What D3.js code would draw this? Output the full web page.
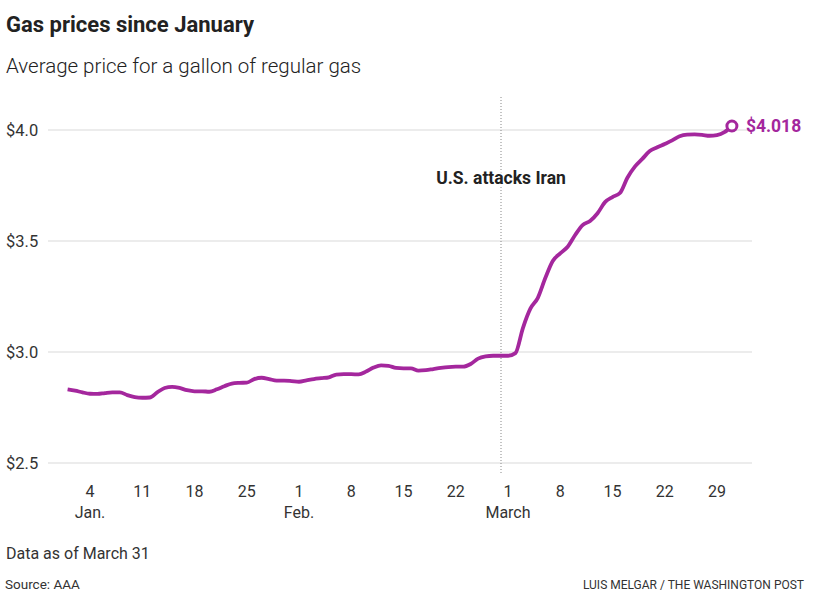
<!DOCTYPE html>
<html>
<head>
<meta charset="utf-8">
<script src="https://cdn.jsdelivr.net/npm/d3@7"></script>
<style>
  body { margin: 0; background: #fff; }
  svg text { font-family: Roboto, "Noto Sans", sans-serif; }
</style>
</head>
<body>
<svg width="820" height="611"></svg>
<script>
// data: daily average price, Jan 1 - Mar 31
var startDate = '2026-01-01';
var prices = [
  2.832, 2.826, 2.818, 2.812, 2.811, 2.815, 2.818, 2.818, 2.806, 2.797,
  2.794, 2.795, 2.818, 2.838, 2.843, 2.838, 2.828, 2.823, 2.823, 2.821,
  2.832, 2.846, 2.858, 2.861, 2.862, 2.878, 2.884, 2.878, 2.871, 2.871,
  2.869, 2.866, 2.872, 2.878, 2.882, 2.886, 2.898, 2.900, 2.900, 2.899,
  2.912, 2.930, 2.940, 2.938, 2.928, 2.926, 2.926, 2.916, 2.918, 2.923,
  2.928, 2.932, 2.934, 2.934, 2.946, 2.970, 2.980, 2.983, 2.983, 2.983,
  2.995, 3.108, 3.195, 3.244, 3.333, 3.410, 3.444, 3.474, 3.527, 3.572,
  3.590, 3.625, 3.675, 3.698, 3.716, 3.785, 3.835, 3.870, 3.905, 3.922,
  3.937, 3.953, 3.972, 3.979, 3.980, 3.978, 3.974, 3.977, 3.990, 4.018
];
var yTicks = [2.5, 3.0, 3.5, 4.0];
var xTicks = ['2026-01-04', '2026-01-11', '2026-01-18', '2026-01-25', '2026-02-01',
  '2026-02-08', '2026-02-15', '2026-02-22', '2026-03-01', '2026-03-08',
  '2026-03-15', '2026-03-22', '2026-03-29'];
var monthLabels = {'2026-01-04': 'Jan.', '2026-02-01': 'Feb.', '2026-03-01': 'March'};
var eventDate = '2026-02-28';
var eventLabel = 'U.S. attacks Iran';
var lastLabel = '$4.018';

var parse = d3.utcParse('%Y-%m-%d');
var start = parse(startDate);
var dataset = prices.map(function(v, i) {
  return {date: d3.utcDay.offset(start, i), price: v};
});

var svg = d3.select('svg');
var purple = '#a4279d';

var xScale = d3.scaleUtc()
  .domain(d3.extent(dataset, function(d) { return d.date; }))
  .range([67.6, 731.9]);
var yScale = d3.scaleLinear().domain([2.5, 4.0]).range([463, 130]);

// titles
svg.append('text').attr('x', 6).attr('y', 32)
  .style('font-size', '22px').style('font-weight', 700).attr('fill', '#222')
  .text('Gas prices since January');
svg.append('text').attr('x', 6).attr('y', 73)
  .style('font-size', '20.5px').style('font-weight', 300).attr('fill', '#222')
  .text('Average price for a gallon of regular gas');

// grid
var grid = svg.append('g');
grid.selectAll('line').data(yTicks).enter().append('line')
  .attr('x1', 48).attr('x2', 752)
  .attr('y1', function(d) { return yScale(d); })
  .attr('y2', function(d) { return yScale(d); })
  .attr('stroke', '#d9d9d9').attr('stroke-width', 1);
grid.selectAll('text').data(yTicks).enter().append('text')
  .attr('x', 6)
  .attr('y', function(d) { return yScale(d) + 6; })
  .style('font-size', '16.5px').attr('fill', '#333')
  .text(function(d) { return '$' + d.toFixed(1); });

// x axis labels
var xg = svg.append('g');
xg.selectAll('.tick').data(xTicks).enter().append('text')
  .attr('class', 'tick')
  .attr('x', function(d) { return xScale(parse(d)); })
  .attr('y', 497)
  .attr('text-anchor', 'middle')
  .style('font-size', '16px').attr('fill', '#333')
  .text(function(d) { return +d.slice(8); });
xg.selectAll('.month').data(Object.keys(monthLabels)).enter().append('text')
  .attr('class', 'month')
  .attr('x', function(d) { return xScale(parse(d)); })
  .attr('y', 518)
  .attr('text-anchor', 'middle')
  .style('font-size', '16px').attr('fill', '#333')
  .text(function(d) { return monthLabels[d]; });

// event line
var ex = xScale(parse(eventDate)) + 0.5;
svg.append('line')
  .attr('x1', ex).attr('x2', ex).attr('y1', 97).attr('y2', 473)
  .attr('stroke', '#888').attr('stroke-width', 1)
  .attr('stroke-dasharray', '1,2');
svg.append('text')
  .attr('x', ex).attr('y', 184)
  .attr('text-anchor', 'middle')
  .style('font-size', '17.5px').style('font-weight', 700)
  .attr('fill', '#222')
  .attr('stroke', '#fff').attr('stroke-width', 4).attr('paint-order', 'stroke')
  .text(eventLabel);

// price line
var line = d3.line()
  .x(function(d) { return xScale(d.date); })
  .y(function(d) { return yScale(d.price); })
  .curve(d3.curveMonotoneX);
svg.append('path').datum(dataset)
  .attr('d', line)
  .attr('fill', 'none').attr('stroke', purple)
  .attr('stroke-width', 3.8).attr('stroke-linejoin', 'round');

var last = dataset[dataset.length - 1];
svg.append('circle')
  .attr('cx', xScale(last.date)).attr('cy', yScale(last.price))
  .attr('r', 5)
  .attr('fill', '#fff').attr('stroke', purple).attr('stroke-width', 3);
svg.append('text')
  .attr('x', xScale(last.date) + 14).attr('y', yScale(last.price) + 6)
  .style('font-size', '17.5px').style('font-weight', 700).attr('fill', purple)
  .text(lastLabel);

// notes
svg.append('text').attr('x', 6).attr('y', 559)
  .style('font-size', '16px').attr('fill', '#333')
  .text('Data as of March 31');
svg.append('text').attr('x', 5).attr('y', 589)
  .style('font-size', '13.5px').attr('fill', '#333')
  .text('Source: AAA');
svg.append('text').attr('x', 804).attr('y', 589)
  .attr('text-anchor', 'end')
  .style('font-size', '12px').attr('fill', '#333')
  .text('LUIS MELGAR / THE WASHINGTON POST');
</script>
</body>
</html>
